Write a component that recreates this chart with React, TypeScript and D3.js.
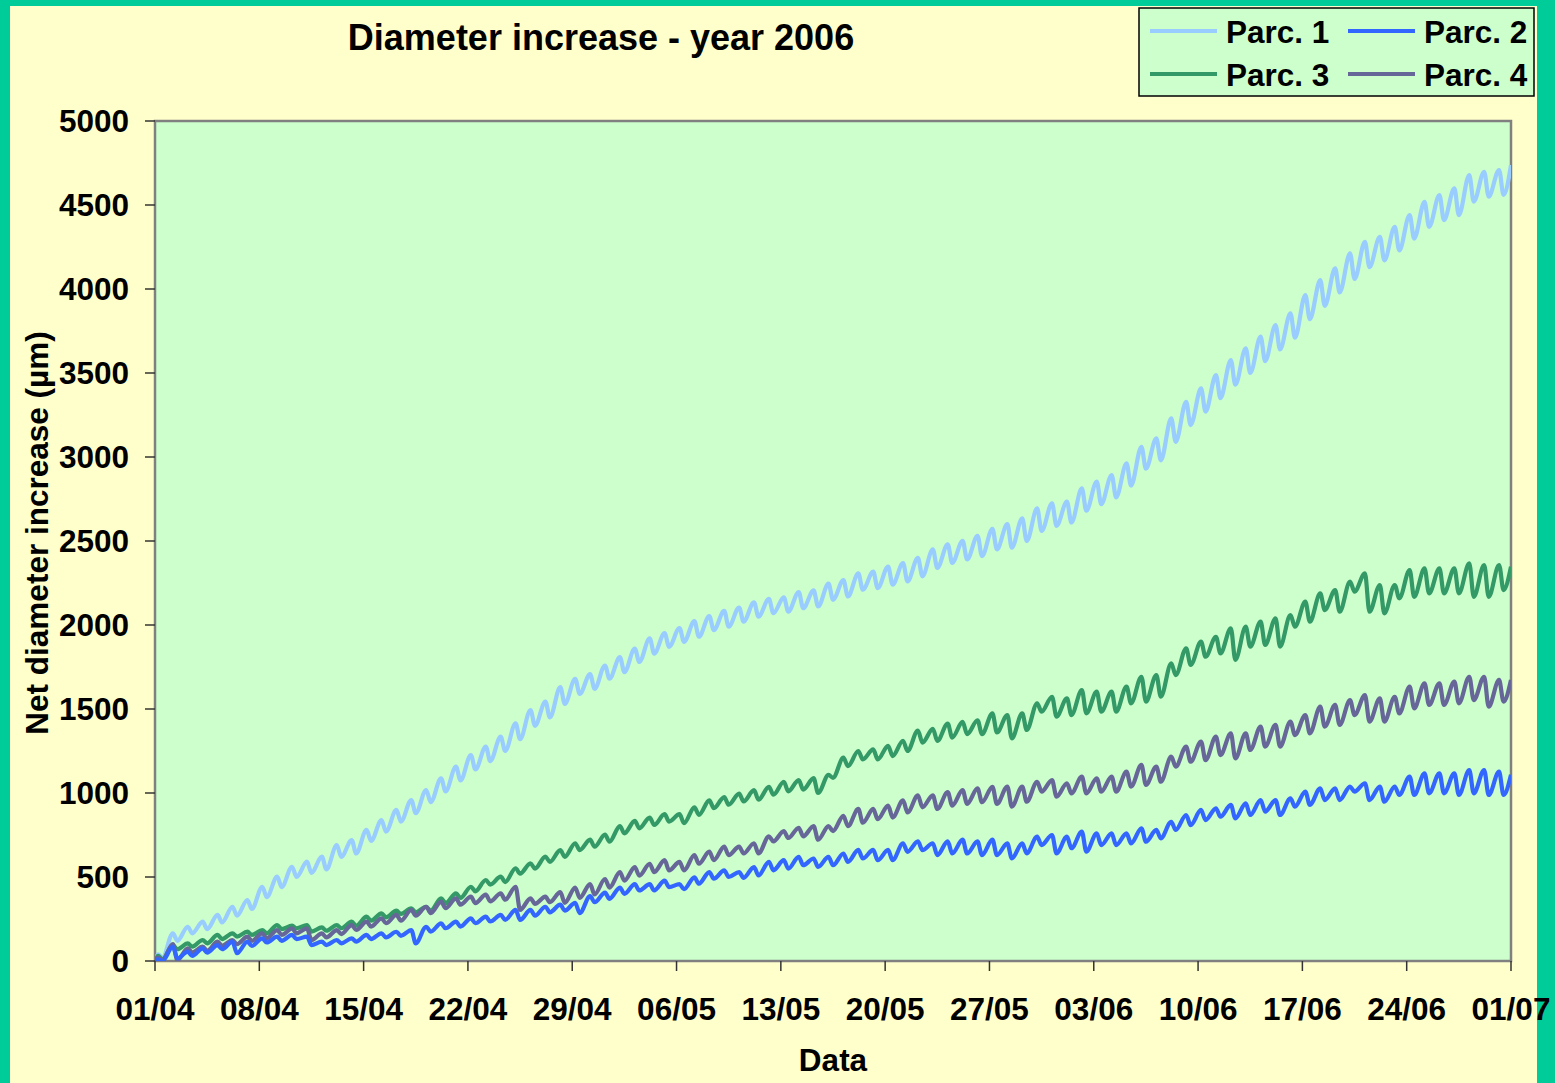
import React from 'react';
import * as d3 from 'd3';

// x tick labels, one every 7 days from 01/04/2006
const tickLabels = ['01/04', '08/04', '15/04', '22/04', '29/04', '06/05', '13/05', '20/05', '27/05', '03/06', '10/06', '17/06', '24/06', '01/07'];
const yTicks = [0, 500, 1000, 1500, 2000, 2500, 3000, 3500, 4000, 4500, 5000];
const totalDays = 91;

// daily maxima (morning) and minima (afternoon), µm, days 01/04 .. 30/06
const p1Hi = [40, 165, 204, 234, 274, 323, 363, 442, 502, 561, 591, 621, 690, 720, 780, 839, 899, 958, 1018, 1087, 1157, 1226, 1276, 1335, 1415, 1494, 1544, 1630, 1680, 1708, 1759, 1809, 1860, 1921, 1952, 1982, 2023, 2053, 2084, 2104, 2135, 2155, 2165, 2196, 2206, 2246, 2267, 2307, 2318, 2348, 2368, 2399, 2450, 2480, 2501, 2531, 2572, 2600, 2635, 2694, 2724, 2734, 2813, 2853, 2893, 2962, 3061, 3111, 3230, 3329, 3408, 3488, 3577, 3647, 3716, 3785, 3855, 3964, 4053, 4123, 4212, 4281, 4311, 4370, 4440, 4519, 4559, 4599, 4678, 4698, 4708];
const p1Lo = [20, 120, 165, 190, 230, 270, 310, 380, 440, 500, 525, 545, 620, 640, 715, 770, 830, 880, 945, 1010, 1075, 1140, 1190, 1250, 1320, 1400, 1450, 1530, 1590, 1620, 1680, 1720, 1780, 1830, 1870, 1900, 1930, 1970, 1990, 2020, 2050, 2070, 2080, 2100, 2110, 2150, 2170, 2210, 2220, 2240, 2260, 2290, 2340, 2370, 2390, 2410, 2450, 2460, 2500, 2560, 2590, 2610, 2680, 2720, 2760, 2830, 2930, 2980, 3090, 3190, 3270, 3350, 3430, 3500, 3570, 3640, 3710, 3820, 3900, 3980, 4060, 4130, 4170, 4230, 4300, 4370, 4410, 4440, 4520, 4550, 4560];
const p1End = 4738;

const p2Hi = [10, 85, 56, 75, 95, 115, 115, 135, 145, 155, 145, 115, 125, 135, 155, 165, 174, 184, 204, 224, 234, 254, 264, 274, 304, 304, 323, 335, 346, 386, 407, 437, 457, 457, 478, 457, 498, 529, 539, 529, 559, 590, 600, 620, 610, 620, 640, 661, 661, 661, 701, 712, 701, 712, 722, 712, 722, 700, 700, 740, 750, 740, 770, 760, 760, 760, 790, 780, 829, 869, 899, 909, 929, 938, 958, 958, 968, 1008, 1028, 1028, 1038, 1058, 1038, 1038, 1097, 1117, 1117, 1117, 1137, 1137, 1127];
const p2Lo = [0, 15, 30, 50, 70, 46, 90, 110, 120, 130, 95, 95, 105, 115, 130, 140, 150, 105, 175, 195, 205, 225, 235, 245, 244, 270, 290, 300, 285, 350, 370, 400, 420, 420, 440, 427, 460, 490, 500, 495, 510, 540, 550, 570, 560, 570, 590, 610, 600, 600, 650, 660, 630, 640, 640, 630, 630, 611, 641, 690, 641, 671, 651, 690, 690, 700, 710, 730, 780, 809, 839, 859, 849, 869, 889, 869, 919, 929, 958, 958, 1008, 958, 948, 988, 988, 998, 998, 988, 998, 988, 988];
const p2End = 1109;

const p3Hi = [30, 95, 105, 125, 155, 165, 175, 184, 214, 210, 214, 200, 214, 234, 264, 284, 300, 313, 323, 373, 403, 442, 482, 502, 552, 581, 621, 660, 701, 722, 752, 803, 834, 854, 874, 874, 915, 956, 976, 996, 1017, 1037, 1067, 1077, 1088, 1108, 1210, 1250, 1260, 1281, 1311, 1372, 1382, 1413, 1423, 1433, 1474, 1464, 1474, 1534, 1573, 1563, 1613, 1603, 1603, 1633, 1692, 1702, 1772, 1861, 1901, 1930, 1980, 1990, 2020, 2040, 2059, 2139, 2188, 2208, 2258, 2307, 2238, 2238, 2327, 2337, 2337, 2337, 2367, 2357, 2357];
const p3Lo = [10, 70, 85, 105, 130, 145, 155, 165, 190, 195, 175, 180, 195, 210, 240, 260, 280, 290, 300, 345, 375, 415, 455, 470, 520, 550, 590, 620, 660, 680, 710, 760, 790, 810, 830, 820, 870, 910, 930, 950, 960, 990, 1010, 1020, 1000, 1090, 1160, 1200, 1200, 1220, 1250, 1300, 1310, 1330, 1350, 1350, 1360, 1325, 1375, 1484, 1454, 1464, 1474, 1484, 1484, 1534, 1544, 1573, 1702, 1762, 1811, 1831, 1792, 1871, 1881, 1871, 1990, 2020, 2089, 2079, 2198, 2079, 2069, 2159, 2168, 2188, 2188, 2188, 2168, 2168, 2208];
const p3End = 2347;

const p4Hi = [20, 100, 75, 85, 115, 125, 145, 165, 184, 194, 194, 165, 184, 214, 234, 254, 274, 304, 323, 353, 373, 383, 395, 403, 442, 373, 383, 410, 437, 457, 488, 529, 559, 579, 600, 590, 630, 651, 681, 681, 701, 742, 773, 793, 803, 803, 864, 905, 905, 925, 956, 986, 986, 1006, 1017, 1027, 1037, 1038, 1038, 1067, 1077, 1058, 1097, 1087, 1097, 1127, 1167, 1157, 1216, 1276, 1306, 1335, 1355, 1355, 1395, 1405, 1425, 1464, 1514, 1524, 1553, 1583, 1563, 1573, 1633, 1653, 1653, 1663, 1692, 1692, 1673];
const p4Lo = [5, 5, 50, 60, 90, 100, 120, 135, 155, 165, 125, 140, 160, 185, 205, 225, 240, 270, 285, 315, 335, 345, 355, 365, 304, 340, 350, 346, 376, 396, 437, 478, 508, 529, 539, 539, 579, 600, 630, 640, 640, 712, 732, 742, 722, 773, 803, 823, 844, 854, 884, 915, 905, 925, 935, 945, 935, 919, 948, 1008, 978, 998, 998, 1008, 1008, 1038, 1048, 1067, 1157, 1186, 1196, 1226, 1206, 1256, 1276, 1276, 1345, 1355, 1395, 1405, 1464, 1425, 1425, 1474, 1504, 1524, 1524, 1534, 1553, 1514, 1544];
const p4End = 1673;

const seriesNames = ['Parc. 1', 'Parc. 2', 'Parc. 3', 'Parc. 4'];
const seriesColors = ['#99CCFF', '#3366FF', '#339966', '#666699'];

const FONT = '"Liberation Sans", Arial, Helvetica, sans-serif';

type Pt = { t: number; v: number };

function buildSeries(hi: number[], lo: number[], end: number): Pt[] {
  const pts: Pt[] = [{ t: 0, v: 0 }];
  hi.forEach((h, d) => {
    pts.push({ t: d + 0.2, v: h });
    pts.push({ t: d + 0.5, v: lo[d] });
  });
  pts.push({ t: totalDays, v: end });
  return pts;
}

const allSeries = [
  buildSeries(p1Hi, p1Lo, p1End),
  buildSeries(p2Hi, p2Lo, p2End),
  buildSeries(p3Hi, p3Lo, p3End),
  buildSeries(p4Hi, p4Lo, p4End),
];

const App = () => {
  const W = 1555;
  const H = 1083;
  const left = 155;
  const right = 1511;
  const top = 121;
  const bottom = 961;

  const x = d3.scaleLinear().domain([0, totalDays]).range([left, right]);
  const y = d3.scaleLinear().domain([0, 5000]).range([bottom, top]);

  const line = d3
    .line<Pt>()
    .x((d) => x(d.t))
    .y((d) => y(d.v))
    .curve(d3.curveMonotoneX);

  // draw order: so that Parc.1 sits under, like the original
  const order = [0, 2, 3, 1];

  return (
    <svg width={W} height={H} style={{ position: 'absolute', left: 0, top: 0 }} fontFamily={FONT} fontWeight="bold">
      <rect x={0} y={0} width={W} height={H} fill="#00CC99" />
      <rect x={10} y={6} width={1527} height={H} fill="#FFFFCC" />

      <text x={601} y={50} textAnchor="middle" fontSize={36}>
        Diameter increase - year 2006
      </text>

      <defs>
        <clipPath id="plotClip">
          <rect x={left} y={top - 3} width={right - left} height={bottom - top + 3} />
        </clipPath>
      </defs>

      <rect x={left} y={top} width={right - left} height={bottom - top} fill="#CCFFCC" stroke="#808080" strokeWidth={2.5} />

      <g clipPath="url(#plotClip)">
        {order.map((i) => (
          <path key={i} d={line(allSeries[i]) || ''} fill="none" stroke={seriesColors[i]} strokeWidth={4.2} strokeLinejoin="round" />
        ))}
      </g>

      {/* y axis */}
      {yTicks.map((t) => (
        <g key={t}>
          <line x1={left - 10} x2={left} y1={y(t)} y2={y(t)} stroke="#333" strokeWidth={1.5} />
          <text x={129} y={y(t)} dy="0.36em" textAnchor="end" fontSize={31.5}>
            {t}
          </text>
        </g>
      ))}

      {/* x axis */}
      {tickLabels.map((lab, i) => (
        <g key={lab}>
          <line x1={x(i * 7)} x2={x(i * 7)} y1={bottom} y2={bottom + 10} stroke="#333" strokeWidth={1.5} />
          <text x={x(i * 7)} y={1020} textAnchor="middle" fontSize={31.5}>
            {lab}
          </text>
        </g>
      ))}

      <text x={833} y={1071} textAnchor="middle" fontSize={31.5}>
        Data
      </text>
      <text transform="translate(48,533) rotate(-90)" textAnchor="middle" fontSize={31.5}>
        Net diameter increase (µm)
      </text>

      {/* legend */}
      <rect x={1139} y={8} width={395} height={88} fill="#CCFFCC" stroke="#000" strokeWidth={1.5} />
      {seriesNames.map((name, i) => {
        const col = i % 2;
        const row = Math.floor(i / 2);
        const lx = col === 0 ? 1150 : 1348;
        const ly = row === 0 ? 31 : 74;
        return (
          <g key={name}>
            <line x1={lx} x2={lx + 67} y1={ly} y2={ly} stroke={seriesColors[i]} strokeWidth={4} />
            <text x={lx + 76} y={ly + 12} fontSize={31.5}>
              {name}
            </text>
          </g>
        );
      })}
    </svg>
  );
};

export default App;
